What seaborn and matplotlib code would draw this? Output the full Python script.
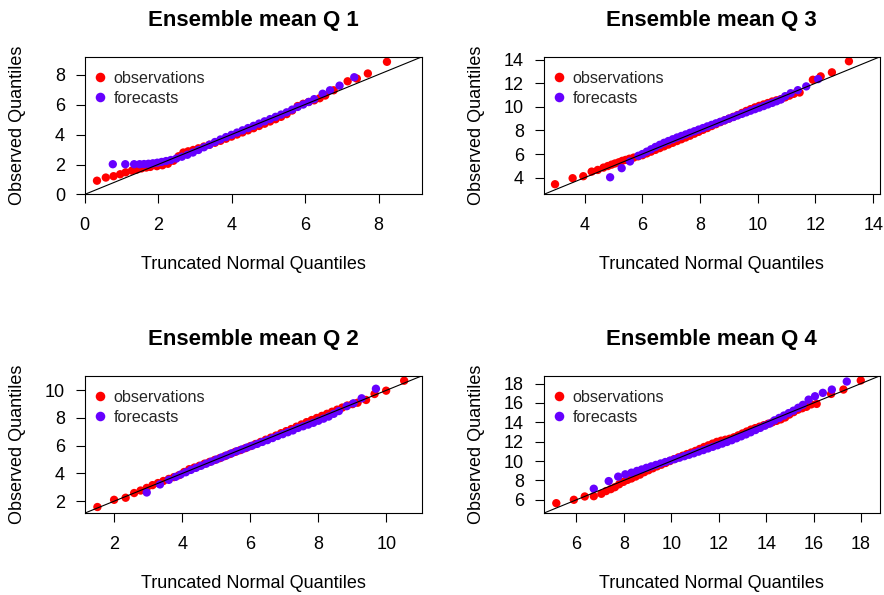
import numpy as np
import pandas as pd
import matplotlib
matplotlib.use("Agg")
import matplotlib.pyplot as plt
from matplotlib.ticker import MultipleLocator
import seaborn as sns

sns.set_style("ticks")
plt.rcParams["font.family"] = ["Liberation Sans", "DejaVu Sans"]

# ---------------- data (theoretical quantile, observed quantile) ----------------
q1_obs_x = [0.34, 0.58, 0.79, 0.97, 1.12, 1.29, 1.42, 1.55, 1.68, 1.79, 1.97, 2.12, 2.27, 2.42,
            2.56, 2.69, 2.82, 2.96, 3.1, 3.25, 3.4, 3.55, 3.7, 3.85, 4.0, 4.15, 4.3, 4.45, 4.6,
            4.75, 4.9, 5.05, 5.2, 5.35, 5.5, 5.65, 5.8, 5.95, 6.1, 6.25, 6.4, 6.55, 6.78, 7.16,
            7.41, 7.71, 8.23]
q1_obs_y = [0.92, 1.13, 1.22, 1.35, 1.48, 1.59, 1.66, 1.74, 1.8, 1.84, 1.89, 1.95, 2.05, 2.25,
            2.55, 2.8, 2.88, 2.97, 3.08, 3.2, 3.32, 3.45, 3.58, 3.72, 3.86, 4.0, 4.14, 4.28, 4.42,
            4.57, 4.72, 4.87, 5.02, 5.18, 5.36, 5.6, 5.9, 6.05, 6.17, 6.28, 6.42, 6.6, 6.95, 7.55,
            7.73, 8.07, 8.85]
q1_fc_x = [0.77, 1.11, 1.35, 1.5, 1.62, 1.74, 1.86, 1.98, 2.1, 2.22, 2.35, 2.5, 2.65, 2.8, 2.95,
           3.1, 3.25, 3.4, 3.55, 3.7, 3.85, 4.0, 4.15, 4.3, 4.45, 4.6, 4.75, 4.9, 5.05, 5.2, 5.35,
           5.5, 5.65, 5.8, 5.95, 6.1, 6.25, 6.48, 6.68, 6.94, 7.34]
q1_fc_y = [2.02, 2.02, 2.02, 2.02, 2.03, 2.05, 2.08, 2.12, 2.17, 2.23, 2.3, 2.4, 2.52, 2.65, 2.8,
           2.97, 3.15, 3.32, 3.5, 3.67, 3.83, 3.98, 4.13, 4.28, 4.43, 4.58, 4.73, 4.88, 5.03, 5.18,
           5.33, 5.48, 5.66, 5.84, 6.0, 6.17, 6.36, 6.72, 6.95, 7.26, 7.82]

q3_obs_x = [2.97, 3.58, 3.95, 4.24, 4.45, 4.65, 4.8, 4.93, 5.05, 5.18, 5.3, 5.42, 5.55, 5.7, 5.85,
            6.0, 6.15, 6.3, 6.45, 6.6, 6.75, 6.9, 7.05, 7.2, 7.35, 7.5, 7.65, 7.8, 7.95, 8.1,
            8.25, 8.4, 8.55, 8.7, 8.85, 9.0, 9.15, 9.3, 9.45, 9.6, 9.75, 9.9, 10.05, 10.2, 10.35,
            10.5, 10.65, 10.8, 10.95, 11.1, 11.25, 11.45, 11.91, 12.18, 12.57, 13.16]
q3_obs_y = [3.44, 3.95, 4.12, 4.51, 4.65, 4.85, 4.98, 5.1, 5.2, 5.3, 5.42, 5.5, 5.6, 5.7, 5.8,
            5.9, 6.05, 6.2, 6.35, 6.5, 6.65, 6.8, 6.95, 7.1, 7.25, 7.4, 7.55, 7.72, 7.88, 8.05,
            8.2, 8.37, 8.53, 8.7, 8.85, 9.0, 9.15, 9.3, 9.48, 9.65, 9.8, 9.95, 10.08, 10.2, 10.32,
            10.45, 10.55, 10.65, 10.8, 10.95, 11.1, 11.21, 12.29, 12.58, 12.92, 13.86]
q3_fc_x = [4.88, 5.28, 5.57, 5.86, 6.0, 6.15, 6.3, 6.45, 6.6, 6.75, 6.9, 7.05, 7.2, 7.35, 7.5,
           7.65, 7.8, 7.95, 8.1, 8.25, 8.4, 8.55, 8.7, 8.85, 9.0, 9.15, 9.3, 9.45, 9.6, 9.75, 9.9,
           10.05, 10.2, 10.35, 10.5, 10.65, 10.8, 10.95, 11.14, 11.39, 11.68, 12.09]
q3_fc_y = [4.03, 4.8, 5.37, 5.85, 6.0, 6.2, 6.4, 6.6, 6.78, 6.95, 7.1, 7.25, 7.4, 7.53, 7.66,
           7.8, 7.93, 8.07, 8.2, 8.34, 8.47, 8.6, 8.73, 8.86, 9.0, 9.13, 9.27, 9.4, 9.53, 9.67,
           9.8, 9.93, 10.06, 10.2, 10.33, 10.47, 10.62, 10.9, 11.15, 11.41, 11.73, 12.35]

q2_obs_x = [1.5, 1.99, 2.33, 2.58, 2.77, 2.95, 3.12, 3.28, 3.44, 3.6, 3.75, 3.9, 4.05, 4.2, 4.35,
            4.5, 4.65, 4.8, 4.95, 5.1, 5.25, 5.4, 5.55, 5.7, 5.85, 6.0, 6.15, 6.3, 6.45, 6.6,
            6.75, 6.9, 7.05, 7.2, 7.35, 7.5, 7.65, 7.8, 7.95, 8.1, 8.25, 8.4, 8.55, 8.7, 8.85,
            9.0, 9.15, 9.4, 9.65, 9.99, 10.52]
q2_obs_y = [1.57, 2.09, 2.24, 2.58, 2.76, 2.95, 3.15, 3.3, 3.45, 3.6, 3.73, 3.87, 4.1, 4.3, 4.42,
            4.55, 4.7, 4.83, 4.97, 5.1, 5.25, 5.4, 5.55, 5.68, 5.82, 5.97, 6.12, 6.27, 6.43, 6.58,
            6.73, 6.9, 7.05, 7.2, 7.37, 7.53, 7.7, 7.85, 8.0, 8.15, 8.3, 8.45, 8.6, 8.75, 8.9,
            9.0, 9.1, 9.3, 9.73, 9.97, 10.69]
q2_fc_x = [2.95, 3.34, 3.6, 3.8, 3.95, 4.1, 4.25, 4.4, 4.55, 4.7, 4.85, 5.0, 5.15, 5.3, 5.45,
           5.6, 5.75, 5.9, 6.05, 6.2, 6.35, 6.5, 6.65, 6.8, 6.95, 7.1, 7.25, 7.4, 7.55, 7.7, 7.85,
           8.0, 8.15, 8.3, 8.45, 8.6, 8.83, 9.03, 9.27, 9.69]
q2_fc_y = [2.62, 3.2, 3.53, 3.75, 3.92, 4.08, 4.25, 4.4, 4.55, 4.7, 4.85, 5.0, 5.15, 5.3, 5.45,
           5.6, 5.73, 5.87, 6.0, 6.13, 6.27, 6.4, 6.55, 6.7, 6.83, 6.97, 7.1, 7.28, 7.4, 7.52,
           7.65, 7.8, 7.95, 8.1, 8.3, 8.5, 8.85, 9.06, 9.42, 10.11]

q4_obs_x = [5.15, 5.89, 6.35, 6.73, 7.05, 7.25, 7.45, 7.62, 7.8, 7.98, 8.15, 8.32, 8.5, 8.68,
            8.86, 9.04, 9.22, 9.4, 9.58, 9.76, 9.94, 10.12, 10.3, 10.48, 10.66, 10.84, 11.02,
            11.2, 11.38, 11.56, 11.74, 11.92, 12.1, 12.28, 12.46, 12.64, 12.82, 13.0, 13.18,
            13.36, 13.54, 13.72, 13.9, 14.08, 14.26, 14.44, 14.62, 14.8, 14.98, 15.16, 15.34,
            15.52, 15.7, 15.9, 16.13, 16.74, 17.26, 17.99]
q4_obs_y = [5.65, 6.0, 6.34, 6.37, 6.62, 6.9, 7.1, 7.3, 7.6, 7.85, 8.05, 8.2, 8.4, 8.6, 8.85,
            9.05, 9.25, 9.45, 9.62, 9.8, 10.0, 10.2, 10.38, 10.55, 10.72, 10.88, 11.05, 11.25,
            11.45, 11.62, 11.8, 11.98, 12.1, 12.2, 12.3, 12.45, 12.65, 12.85, 13.05, 13.25, 13.4,
            13.55, 13.7, 13.85, 14.0, 14.15, 14.3, 14.5, 14.8, 15.05, 15.3, 15.45, 15.6, 15.85,
            15.9, 16.93, 17.38, 18.32]
q4_fc_x = [6.73, 7.36, 7.76, 8.06, 8.32, 8.55, 8.75, 8.95, 9.15, 9.35, 9.55, 9.75, 9.95, 10.15,
           10.35, 10.55, 10.75, 10.95, 11.15, 11.35, 11.55, 11.75, 11.95, 12.15, 12.35, 12.55,
           12.75, 12.95, 13.15, 13.35, 13.55, 13.75, 13.95, 14.15, 14.35, 14.55, 14.75, 14.95,
           15.15, 15.35, 15.55, 15.79, 16.06, 16.39, 16.77, 17.4]
q4_fc_y = [7.14, 7.93, 8.39, 8.63, 8.8, 8.98, 9.13, 9.3, 9.45, 9.6, 9.75, 9.9, 10.05, 10.2,
           10.35, 10.5, 10.65, 10.8, 10.97, 11.13, 11.3, 11.47, 11.63, 11.8, 11.97, 12.15, 12.35,
           12.55, 12.75, 12.97, 13.2, 13.42, 13.65, 13.87, 14.2, 14.45, 14.7, 14.95, 15.2, 15.5,
           15.8, 16.34, 16.69, 17.04, 17.38, 18.21]

titles = ["Ensemble mean Q 1", "Ensemble mean Q 3", "Ensemble mean Q 2", "Ensemble mean Q 4"]
series_names = ["observations", "forecasts"]
x_label = "Truncated Normal Quantiles"
y_label = "Observed Quantiles"

panels = [
    (titles[0], q1_obs_x, q1_obs_y, q1_fc_x, q1_fc_y),
    (titles[1], q3_obs_x, q3_obs_y, q3_fc_x, q3_fc_y),
    (titles[2], q2_obs_x, q2_obs_y, q2_fc_x, q2_fc_y),
    (titles[3], q4_obs_x, q4_obs_y, q4_fc_x, q4_fc_y),
]

# ---------------- layout / style ----------------
W, H = 884, 595
rects_px = [(84.5, 57, 421.5, 194.5), (543.5, 57, 879.5, 194.5),
            (84.5, 376, 421.5, 513.25), (543.5, 376, 879.5, 513.25)]
limits = [(0.0, 9.17), (2.57, 14.22), (1.12, 11.03), (4.61, 18.78)]
palette = {"observations": "#FF0000", "forecasts": "#6600FF"}

fig = plt.figure(figsize=(W / 100, H / 100), dpi=100)

for (title, ox, oy, fx, fy), (l, t, r, b), (lo, hi) in zip(panels, rects_px, limits):
    ax = fig.add_axes([l / W, 1 - b / H, (r - l) / W, (b - t) / H])
    df = pd.DataFrame({
        "theo": list(ox) + list(fx),
        "obs": list(oy) + list(fy),
        "series": [series_names[0]] * len(ox) + [series_names[1]] * len(fx),
    })
    sns.scatterplot(data=df, x="theo", y="obs", hue="series", palette=palette,
                    hue_order=series_names, s=36, linewidth=0, ax=ax, zorder=2)
    ax.axline((lo, lo), slope=1, color="black", lw=0.8, zorder=3)
    ax.set_xlim(lo, hi)
    ax.set_ylim(lo, hi)
    ax.xaxis.set_major_locator(MultipleLocator(2))
    ax.yaxis.set_major_locator(MultipleLocator(2))
    for sp in ax.spines.values():
        sp.set_linewidth(0.8)
        sp.set_color("black")
    ax.tick_params(axis="both", direction="out", length=6.5, width=0.8, color="black",
                   labelsize=13, labelcolor="black")
    ax.tick_params(axis="x", pad=10.0)
    ax.tick_params(axis="y", pad=7.5)
    ax.set_xlabel(x_label, fontsize=13, color="black")
    ax.set_ylabel(y_label, fontsize=13, color="black")
    ax.xaxis.set_label_coords(0.5, -0.45)
    ax.yaxis.set_label_coords(-0.173, 0.5)
    ax.set_title(title, fontsize=16, fontweight="bold", pad=22.5, color="black")
    sns.move_legend(ax, "upper left", title=None, frameon=False, fontsize=11.6,
                    borderaxespad=0.0, borderpad=0.55, handlelength=0.8,
                    handletextpad=0.45, labelspacing=0.32, markerscale=1.15,
                    bbox_to_anchor=(0, 0.965))

fig.savefig("out.png", dpi=100)
